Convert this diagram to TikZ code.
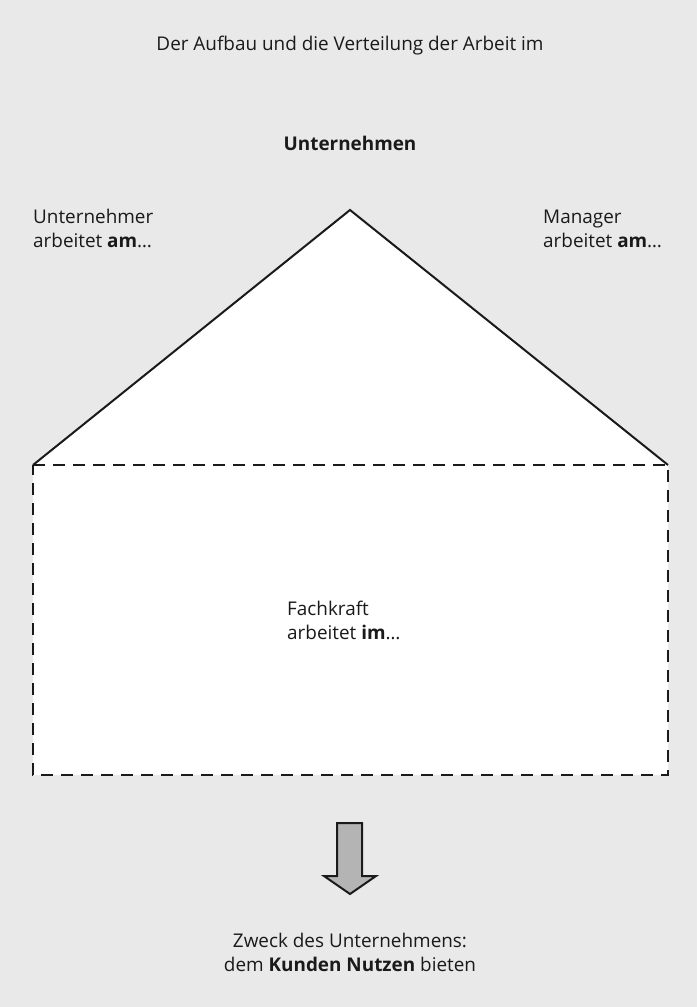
\documentclass[tikz,border=0pt]{standalone}
\usepackage{fontspec}
\setmainfont{Open Sans}
\definecolor{bg}{HTML}{E9E9E9}
\definecolor{arrowfill}{HTML}{B4B4B4}
\definecolor{ink}{HTML}{1A1A1A}
\tikzset{
  txt/.style={inner sep=0pt, text=ink, font=\fontsize{18.9}{24}\selectfont},
  solidline/.style={draw=ink, line width=2pt, line join=miter},
  dashline/.style={draw=ink, line width=2.4pt, dash pattern=on 12pt off 8pt},
}
\begin{document}
\begin{tikzpicture}[x=1pt,y=-1pt]
\fill[bg] (0,0) rectangle (697,1007);
\useasboundingbox (0,0) rectangle (697,1007);
% house
\coordinate (apex) at (350,210);
\coordinate (tl) at (33,465);
\coordinate (tr) at (668,465);
\coordinate (bl) at (33,775);
\coordinate (br) at (668,775);
\fill[white] (tl) -- (apex) -- (tr) -- (br) -- (bl) -- cycle;
\draw[solidline] (tl) -- (apex) -- (tr);
\draw[dashline] (tl) -- (tr) -- (br) -- (bl) -- cycle;
% arrow
\draw[draw=ink, line width=2pt, fill=arrowfill, line join=miter]
  (337,823) -- (362,823) -- (362,876) -- (376,876) -- (350,894) -- (324,876) -- (337,876) -- cycle;
% texts (base anchor = baseline of last line)
\node[txt, anchor=base] (title) at (350,50) {Der Aufbau und die Verteilung der Arbeit im};
\node[txt, anchor=base] (firm) at (350,150) {\bfseries Unternehmen};
\node[txt, anchor=base west, align=left] (owner) at (33,247) {Unternehmer\\arbeitet \textbf{am}\dots};
\node[txt, anchor=base west, align=left] (mgr) at (543,247) {Manager\\arbeitet \textbf{am}\dots};
\node[txt, anchor=base west, align=left] (expert) at (287,639) {Fachkraft\\arbeitet \textbf{im}\dots};
\node[txt, anchor=base, align=center] (purpose) at (350,971) {Zweck des Unternehmens:\\dem \textbf{Kunden Nutzen} bieten};
\end{tikzpicture}
\end{document}
